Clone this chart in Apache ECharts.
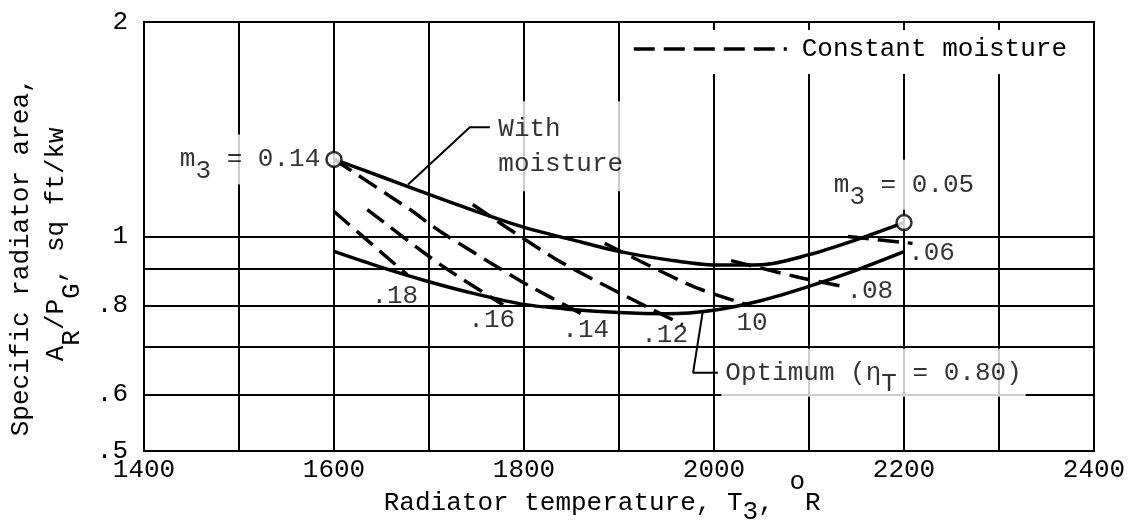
<!DOCTYPE html>
<html><head><meta charset="utf-8">
<script src="https://cdn.jsdelivr.net/npm/echarts@6/dist/echarts.min.js"></script>
<style>html,body{margin:0;padding:0;background:#fff}#c{width:1134px;height:529px}</style>
</head><body><div id="c"></div>
<script>
const FONT = '"Liberation Mono", "DejaVu Sans Mono", monospace';

// axis ticks
const xTickLabels = [1400, 1600, 1800, 2000, 2200, 2400];
const yTickLabels = [0.5, 0.6, 0.8, 1, 2];
const yGridValues = [0.5, 0.6, 0.7, 0.8, 0.9, 1, 2];

// solid curves
const curveX = [1600, 1650, 1700, 1750, 1800, 1850, 1900, 1950, 2000, 2050, 2100, 2150, 2200];
const withMoistureY = [1.283, 1.213, 1.146, 1.084, 1.030, 0.990, 0.953, 0.928, 0.912, 0.913, 0.943, 0.990, 1.046];
const optimumY = [0.953, 0.905, 0.864, 0.830, 0.803, 0.790, 0.782, 0.779, 0.788, 0.813, 0.851, 0.897, 0.952];

// constant moisture (dashed) lines
const moistureLineX = [
  [1600, 1677],
  [1635, 1712, 1778],
  [1600, 1680, 1712, 1796, 1866],
  [1746, 1838, 1967],
  [1885, 1978, 2038],
  [2018, 2090, 2136],
  [2141, 2209]
];
const moistureLineY = [
  [1.084, 0.884],
  [1.091, 0.913, 0.802],
  [1.283, 1.091, 1.016, 0.867, 0.772],
  [1.109, 0.922, 0.752],
  [0.978, 0.851, 0.800],
  [0.925, 0.876, 0.851],
  [1.000, 0.978]
];

// labels of dashed lines
const moistureLabels = ['.18', '.16', '.14', '.12', '10', '.08', '.06'];
const moistureLabelX = [1664, 1766, 1865, 1948, 2040, 2164, 2229];
const moistureLabelY = [0.826, 0.764, 0.738, 0.726, 0.757, 0.839, 0.949];

// end point circles
const endPointX = [1600, 2200];
const endPointY = [1.283, 1.046];
const endPointM = ['0.14', '0.05'];

// annotation leaders
const withLeaderX = [1678, 1743, 1764];
const withLeaderY = [1.183, 1.423, 1.423];
const optLeaderX = [1988, 1978, 2004];
const optLeaderY = [0.782, 0.644, 0.644];

const zip = (xs, ys) => xs.map((x, i) => [x, ys[i]]);
const BLACK = '#000';
const CLEAR = 'rgba(0,0,0,0)';

const baseText = { fontFamily: FONT, fontSize: 26, color: BLACK };
const st = extra => Object.assign({}, baseText, extra);

const series = [];
series.push({
  type: 'line', name: 'With moisture', data: zip(curveX, withMoistureY), smooth: 0.3,
  symbol: 'none', lineStyle: { color: BLACK, width: 3.5 }, z: 3, silent: true
});
series.push({
  type: 'line', name: 'Optimum', data: zip(curveX, optimumY), smooth: 0.3,
  symbol: 'none', lineStyle: { color: BLACK, width: 3.5 }, z: 3, silent: true
});
moistureLineX.forEach((xs, i) => {
  series.push({
    type: 'line', name: 'Constant moisture', data: zip(xs, moistureLineY[i]), smooth: 0.25,
    symbol: 'none', showSymbol: false,
    lineStyle: { color: BLACK, width: 3.5, type: [21, 9] },
    itemStyle: { color: CLEAR, borderColor: CLEAR, borderWidth: 0 }, z: 3, silent: true
  });
});
series.push({
  type: 'line', name: 'leader1', data: zip(withLeaderX, withLeaderY),
  symbol: 'none', lineStyle: { color: BLACK, width: 2 }, z: 3, silent: true
});
series.push({
  type: 'line', name: 'leader2', data: zip(optLeaderX, optLeaderY),
  symbol: 'none', lineStyle: { color: BLACK, width: 2 }, z: 3, silent: true
});
series.push({
  type: 'scatter', name: 'labels', silent: true, z: 4,
  symbolSize: 1, itemStyle: { color: CLEAR },
  data: moistureLabels.map((t, i) => ({ name: t, value: [moistureLabelX[i], moistureLabelY[i]] })),
  label: st({ show: true, position: 'inside', formatter: p => p.name })
});
const mRich = {
  a: st({ lineHeight: 50, verticalAlign: 'middle' }),
  s: st({ lineHeight: 10, verticalAlign: 'bottom' })
};
series.push({
  type: 'scatter', name: 'ends', silent: true, z: 5,
  symbol: 'circle', symbolSize: 15,
  itemStyle: { color: '#fff', borderColor: BLACK, borderWidth: 2.5 },
  data: endPointM.map((m, i) => ({
    name: m, value: [endPointX[i], endPointY[i]],
    label: i === 0 ? { position: 'left', distance: 1 } : { position: 'top', distance: 4 }
  })),
  label: {
    show: true, formatter: p => '{a|m}{s|3}{a| = ' + p.name + '}', rich: mRich,
    backgroundColor: '#fff', padding: [0, 4]
  }
});
series.push({
  type: 'scatter', name: 'annotations', silent: true, z: 5,
  symbolSize: 1, itemStyle: { color: CLEAR },
  data: [
    {
      name: 'With\nmoisture', value: [withLeaderX[2], withLeaderY[2]],
      label: st({ show: true, position: 'right', distance: 6, lineHeight: 35,
        backgroundColor: '#fff', padding: [10, 2, 10, 2], offset: [0, 19], formatter: p => p.name })
    },
    {
      name: 'Optimum', value: [optLeaderX[2], optLeaderY[2]],
      label: {
        show: true, position: 'right', distance: 3, backgroundColor: '#fff', padding: [0, 4],
        formatter: () => '{a|Optimum (η}{s|T}{a| = 0.80)}',
        rich: {
          a: st({ lineHeight: 48, verticalAlign: 'middle' }),
          s: st({ lineHeight: 10, verticalAlign: 'bottom' })
        }
      }
    }
  ]
});

const option = {
  animation: false,
  backgroundColor: '#fff',
  grid: {
    left: 144, right: 40, top: 22, bottom: 78, containLabel: false, outerBoundsMode: 'none',
    show: true, borderColor: BLACK, borderWidth: 2, backgroundColor: 'transparent'
  },
  legend: {
    data: ['Constant moisture'], left: 628, top: 30, selectedMode: false,
    itemWidth: 153, itemHeight: 20, backgroundColor: '#fff', padding: [6, 20, 12, 4],
    lineStyle: { width: 3.5 },
    itemStyle: { opacity: 0, color: CLEAR, borderWidth: 0 },
    textStyle: st({ padding: [0, 0, 0, 10] })
  },
  xAxis: {
    type: 'value', min: 1400, max: 2400, interval: 100,
    axisLine: { show: true, lineStyle: { color: BLACK, width: 2 } },
    axisTick: { show: false },
    axisLabel: st({ customValues: xTickLabels, margin: 6, formatter: v => String(v) }),
    splitLine: { show: true, lineStyle: { color: BLACK, width: 2 } },
    name: '{a|Radiator temperature, T}{s|3}{a|, }{p|o}{a|R}{g| }',
    nameLocation: 'middle', nameGap: 12, nameMoveOverlap: false,
    nameTextStyle: {
      rich: {
        a: st({ lineHeight: 80, verticalAlign: 'middle' }),
        s: st({ verticalAlign: 'middle', padding: [18, 0, 0, 0] }),
        p: st({ verticalAlign: 'middle', padding: [0, 0, 42, 0] }),
        g: st({ padding: [0, 18, 0, 0] })
      }
    }
  },
  yAxis: {
    type: 'log', logBase: 10, min: 0.5, max: 2,
    axisLine: { show: true, lineStyle: { color: BLACK, width: 2 } },
    axisTick: { show: false, customValues: yGridValues },
    axisLabel: st({
      customValues: yTickLabels, margin: 16,
      formatter: v => v < 1 ? '.' + Math.round(v * 10) : String(Math.round(v))
    }),
    splitLine: { show: true, lineStyle: { color: BLACK, width: 2 } },
    name: '{l1|Specific radiator area,}{g1| }\n{a|A}{s|R}{a|/P}{s|G}{a|, sq ft/kw}{g2| }',
    nameLocation: 'middle', nameRotate: 90, nameGap: 59, nameMoveOverlap: false,
    nameTextStyle: {
      rich: {
        l1: st({ lineHeight: 12, verticalAlign: 'middle' }),
        g1: st({ lineHeight: 12, padding: [0, 25, 0, 0] }),
        a: st({ lineHeight: 58, verticalAlign: 'middle' }),
        s: st({ lineHeight: 28, verticalAlign: 'bottom' }),
        g2: st({ lineHeight: 12 })
      }
    }
  },
  series: series
};

const chart = echarts.init(document.getElementById('c'), null, { renderer: 'canvas' });
chart.setOption(option);
</script>
</body></html>
